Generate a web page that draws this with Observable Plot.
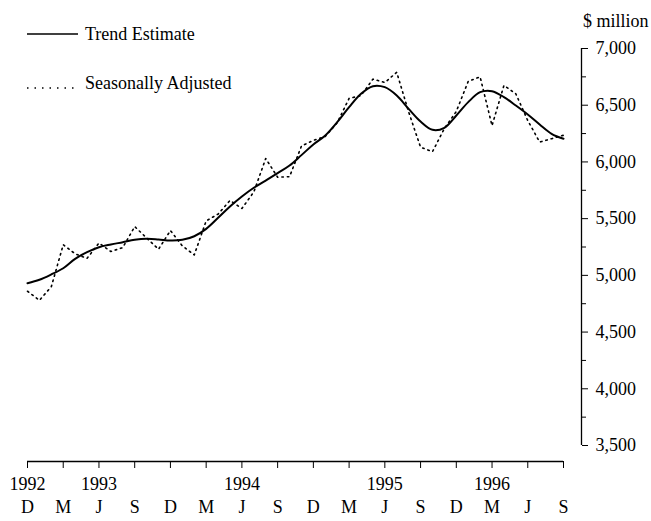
<!DOCTYPE html>
<html><head><meta charset="utf-8">
<script src="https://cdn.jsdelivr.net/npm/d3@7"></script>
<script src="https://cdn.jsdelivr.net/npm/@observablehq/plot@0.6"></script>
<style>
body{margin:0;background:#fff;}
#wrap{position:relative;width:651px;height:521px;font-family:"Liberation Serif","Times New Roman",serif;color:#000;background:#fff;}
.lg{position:absolute;font-size:18px;line-height:18px;white-space:nowrap;}
.lg svg{position:absolute;}
</style></head><body><div id="wrap"></div>
<script>
// Months from Dec 1992 (index 0) to Sep 1996 (index 45)
const monthIndex = d3.range(46);
const trendValues = [4931,4961,5008,5063,5146,5204,5248,5272,5292,5313,5322,5316,5307,5313,5345,5410,5507,5607,5695,5772,5836,5901,5968,6060,6154,6233,6350,6483,6601,6668,6659,6586,6468,6356,6283,6301,6409,6527,6615,6624,6571,6497,6418,6330,6248,6204];
const seasonalValues = [4860,4780,4900,5270,5190,5150,5285,5210,5245,5430,5330,5230,5395,5260,5180,5480,5540,5660,5590,5735,6030,5865,5870,6140,6190,6225,6345,6560,6585,6730,6700,6790,6440,6130,6090,6295,6445,6710,6750,6320,6675,6600,6365,6175,6205,6235];
const tickMonths = [0,3,6,9,12,15,18,21,24,27,30,33,36,39,42,45];
const monthLetters = ["D","M","J","S","D","M","J","S","D","M","J","S","D","M","J","S"];
const yearTicks = [0,6,18,30,39];
const yearLabels = ["1992","1993","1994","1995","1996"];
const yMajor = [3500,4000,4500,5000,5500,6000,6500,7000];
const yMinor = [3750,4250,4750,5250,5750,6250,6750];
const legendLabels = ["Trend Estimate","Seasonally Adjusted"];
const unitLabel = "$ million";

const data = monthIndex.map((m,i)=>({m, trend: trendValues[i], sa: seasonalValues[i]}));

const chart = Plot.plot({
  width: 651, height: 521,
  marginLeft: 27, marginRight: 88, marginTop: 48, marginBottom: 60,
  x: {domain: [0, 45], label: null},
  y: {domain: [3359, 7000], label: null},
  style: {fontFamily: "'Liberation Serif', 'Times New Roman', serif", fontSize: "18px", background: "white", color: "black", overflow: "visible"},
  marks: [
    Plot.ruleY([3359], {stroke: "black", strokeWidth: 1.3}),
    Plot.axisX({ticks: tickMonths, tickSize: 7, tickPadding: 32, label: null, fontSize: 18,
      tickFormat: d => monthLetters[tickMonths.indexOf(d)]}),
    Plot.axisX({ticks: yearTicks, tickSize: 0, tickPadding: 16, label: null, fontSize: 18,
      tickFormat: d => yearLabels[yearTicks.indexOf(d)]}),
    Plot.ruleX([45], {y1: 3500, y2: 7000, dx: 18, stroke: "black", strokeWidth: 1.3}),
    Plot.axisY({anchor: "right", ticks: yMajor, tickSize: 6, tickPadding: 8, dx: 18, label: null, fontSize: 18,
      tickFormat: d3.format(",")}),
    Plot.axisY({anchor: "right", ticks: yMinor, tickSize: 4, dx: 18, label: null, tickFormat: () => ""}),
    Plot.line(data, {x: "m", y: "sa", stroke: "black", strokeWidth: 1.6, strokeDasharray: "1.5 4"}),
    Plot.line(data, {x: "m", y: "trend", stroke: "black", strokeWidth: 2, curve: "catmull-rom"})
  ]
});
const wrap = document.getElementById("wrap");
wrap.appendChild(chart);

function addLegend(top, label, dashed) {
  const d = document.createElement("div");
  d.className = "lg";
  d.style.left = "85px";
  d.style.top = top + "px";
  d.textContent = label;
  wrap.appendChild(d);
  const ns = "http://www.w3.org/2000/svg";
  const s = document.createElementNS(ns, "svg");
  s.setAttribute("width", "56"); s.setAttribute("height", "10");
  s.style.position = "absolute";
  s.style.left = "26px";
  s.style.top = (top + (dashed ? 9 : 4)) + "px";
  const l = document.createElementNS(ns, "line");
  l.setAttribute("x1", "1"); l.setAttribute("x2", dashed ? "48" : "52");
  l.setAttribute("y1", "5"); l.setAttribute("y2", "5");
  l.setAttribute("stroke", "black");
  l.setAttribute("stroke-width", dashed ? "1.6" : "1.6");
  if (dashed) l.setAttribute("stroke-dasharray", "1.5 6");
  s.appendChild(l);
  wrap.appendChild(s);
}
addLegend(25, legendLabels[0], false);
addLegend(74, legendLabels[1], true);

const u = document.createElement("div");
u.className = "lg";
u.style.left = "583px";
u.style.top = "12px";
u.textContent = unitLabel;
wrap.appendChild(u);
</script>
</body></html>
